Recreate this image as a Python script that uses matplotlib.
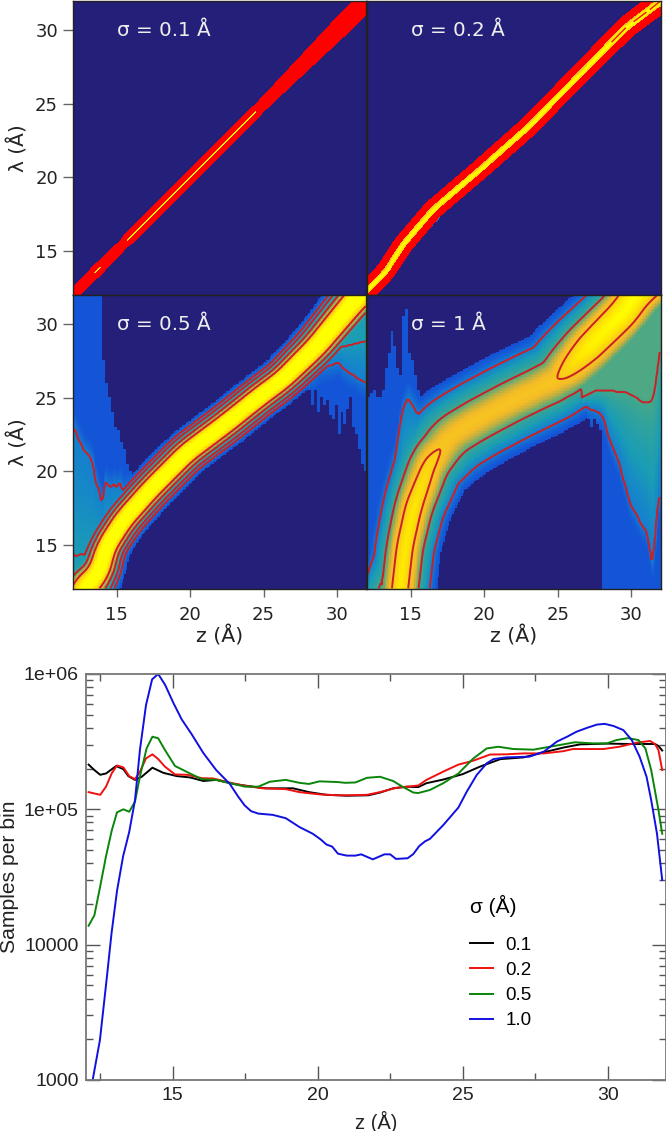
import numpy as np
import matplotlib
matplotlib.use('Agg')
import matplotlib.pyplot as plt
from matplotlib.colors import LinearSegmentedColormap

# --- sampling curves (z in Angstrom, samples per bin)
z_01 = [12.1, 12.3, 12.5, 12.7, 13.05, 13.3, 13.47, 13.7, 13.93, 14.3, 14.68, 15.14, 15.6, 16.06, 16.5, 17.1, 17.77, 18.2, 19.15, 19.7, 20.3, 20.7, 21, 21.75, 22.15, 22.6, 23.07, 23.47, 23.75, 24.33, 25, 25.6, 26.3, 27.1, 27.8, 28.47, 29.05, 29.97, 30.77, 31.63, 31.75, 31.88]
n_01 = [214000, 195000, 180000, 184000, 209000, 198000, 176000, 165000, 174000, 203000, 186000, 176000, 172000, 162000, 165000, 154000, 147000, 143000, 143000, 134000, 128000, 127000, 126000, 127000, 133000, 143000, 147000, 146000, 156000, 166000, 182000, 207000, 235000, 242000, 264000, 286000, 302000, 306000, 304000, 304000, 294000, 272000]
z_02 = [12.1, 12.5, 12.7, 12.9, 13.08, 13.3, 13.5, 13.7, 13.87, 14.08, 14.3, 14.5, 14.73, 15.08, 15.5, 16, 16.4, 17, 17.5, 18.1, 18.9, 19.37, 20.06, 20.7, 21, 21.7, 22.15, 22.7, 23.47, 23.75, 24.33, 24.85, 25.37, 25.94, 26.5, 27.1, 27.8, 28.47, 28.8, 29.85, 30.4, 31, 31.46, 31.63, 31.75, 31.88]
n_02 = [134000, 128000, 147000, 185000, 211000, 204000, 176000, 167000, 190000, 238000, 255000, 235000, 207000, 181000, 180000, 170000, 169000, 157000, 149000, 143000, 141000, 134000, 129000, 127000, 127000, 128000, 134000, 144000, 150000, 165000, 190000, 214000, 229000, 254000, 255000, 259000, 259000, 269000, 279000, 279000, 290000, 311000, 320000, 304000, 274000, 195000]
z_05 = [12.1, 12.3, 12.5, 12.7, 12.9, 13.08, 13.3, 13.5, 13.7, 13.87, 14.1, 14.3, 14.5, 14.73, 15.08, 15.6, 16, 16.5, 17.1, 17.5, 17.95, 18.35, 18.9, 19.37, 19.7, 20.06, 20.7, 20.95, 21.3, 21.7, 22.15, 22.6, 22.9, 23.3, 23.47, 23.87, 24.33, 24.85, 25.37, 25.83, 26.23, 26.75, 27.44, 28, 28.47, 28.87, 29.5, 29.97, 30.3, 30.7, 31.06, 31.3, 31.5, 31.75, 31.88]
n_05 = [13800, 16500, 27000, 45000, 70000, 95000, 100000, 96000, 114000, 175000, 282000, 344000, 335000, 275000, 209000, 184000, 167000, 165000, 154000, 147000, 147000, 160000, 165000, 157000, 154000, 161000, 159000, 157000, 158000, 171000, 174000, 162000, 148000, 133000, 132000, 139000, 156000, 184000, 238000, 282000, 290000, 279000, 276000, 290000, 302000, 313000, 307000, 307000, 325000, 336000, 325000, 282000, 195000, 99000, 66000]
z_10 = [12.24, 12.49, 12.72, 12.89, 13.08, 13.29, 13.5, 13.7, 13.87, 14.08, 14.29, 14.5, 14.74, 15.03, 15.31, 15.65, 16.06, 16.5, 16.97, 17.26, 17.48, 17.7, 17.95, 18.45, 18.9, 19.37, 19.83, 20.1, 20.3, 20.5, 20.7, 21, 21.3, 21.5, 21.9, 22.3, 22.5, 22.7, 23.1, 23.3, 23.5, 23.7, 23.87, 24.33, 24.85, 25.14, 25.48, 25.83, 26.06, 26.5, 27.3, 27.8, 28.24, 28.6, 28.93, 29.3, 29.63, 29.9, 30.2, 30.54, 30.83, 31.1, 31.34, 31.5, 31.7, 31.88]
n_10 = [1000, 1970, 5500, 12100, 25000, 45000, 68000, 117000, 275000, 590000, 913000, 1000000, 830000, 607000, 462000, 360000, 260000, 195000, 154000, 124000, 107000, 97000, 93000, 91000, 86000, 74000, 66000, 60000, 55000, 53000, 47000, 45500, 45500, 46500, 42700, 46500, 46500, 43000, 43500, 46800, 53500, 58000, 60500, 76500, 103000, 135000, 179000, 219000, 235000, 242000, 245000, 267000, 316000, 344000, 375000, 401000, 423000, 428000, 413000, 385000, 325000, 245000, 174000, 117000, 66000, 30000]
sigma_labels = ['0.1', '0.2', '0.5', '1.0']
line_colors = ['#000000', '#f01010', '#0a850a', '#1010e0']

# --- ridge of each 2D histogram: position, height, width along the ridge
a_z = [11, 13.4, 13.55, 13.7, 13.85, 14, 15.6, 15.8, 24.4, 24.6, 26, 28, 30, 33]
a_lam = [11, 13.4, 13.55, 13.7, 13.85, 14, 15.6, 15.8, 24.4, 24.6, 26, 28, 30, 33]
a_amp = [.42, .42, .7, .8, .7, .42, .42, .8, .8, .42, .42, .42, .42, .42]
a_wid = [.18, .18, .18, .18, .18, .18, .17, .17, .18, .19, .22, .27, .32, .35]

b_z = [11, 12, 13.3, 14.46, 16.5, 19.67, 22.85, 26.5, 29.65, 31.9, 33]
b_lam = [11.5, 12.3, 13.6, 15.4, 17.8, 20.5, 23.3, 27, 30.2, 31.9, 33]
b_amp = [1, 1, 1, 1, 1, 1, 1, 1, 1.1, 1.1, 1.1]
b_wid = [.27, .27, .27, .28, .28, .28, .28, .28, .3, .31, .31]
b_split = [(28.7, 29.6), (30.2, 31.0), (31.3, 32.0)]

c_z = [12.2, 12.7, 13.75, 14.3, 15.45, 17.27, 19.76, 22.5, 24.75, 26.3, 28.6, 31.1, 33]
c_lam = [10.5, 12, 13.07, 14.9, 16.7, 18.75, 21.25, 23.3, 25.1, 26.25, 28.5, 31.5, 33.5]
c_amp = [1.2, 1.5, 2, 2, 2, 2, 2, 2, 2, 2, 2, 2, 2]
c_wid = [.7, .7, .55, .5, .5, .5, .5, .5, .5, .5, .55, .6, .6]

d_z = [14.1, 14.27, 14.6, 15.2, 16.3, 17, 17.7, 19.5, 21.76, 23.6, 25.05, 27.2, 29.5, 30.35, 32]
d_lam = [10, 12, 14.9, 17.6, 20.6, 21.5, 22.4, 23.5, 24.7, 25.6, 26.3, 28.5, 30.8, 32, 33.5]
d_amp = [1.3, 1.3, 1.3, 1.25, .95, .72, .65, .65, .65, .65, .72, 1.6, 2, 2, 2]
d_wid = [.8, .8, .8, .85, 1, 1.15, 1.24, 1.24, 1.24, 1.24, 1.2, 1.05, .95, .95, .95]

# --- low count tails: per column limits and two contour positions
c_left_z = [12, 12.2, 12.4, 12.6, 12.8, 13, 13.2, 13.4, 13.6, 13.8, 14, 14.2, 14.4, 14.6, 14.8, 15, 15.2, 15.4, 15.6, 15.8]
c_left_top = [32, 32, 32, 32, 32, 32, 32, 32, 32, 32, 27.5, 26, 25, 24, 23, 22.8, 22, 21.5, 20.5, 20]
c_left_bot = [12, 12, 12, 12, 12, 12, 12, 12.5, 13, 13.5, 14, 14.5, 15, 15.5, 16, 16.3, 16.6, 17, 17.3, 17.6]
c_left_c1 = [22.7, 22.9, 22.2, 21.9, 21.4, 21.2, 21, 20.5, 19.2, 18.8, 17.8, 19.3, 19.1, 18.9, 19.2, 18.9, 19.3, 18.7, 18.7, 18.8]
c_left_c2 = [14.5, 14.2, 14.3, 14.4, 14.3, 14.4, 14.6, 14.8, 15, 15.2, 15.5, 15.7, 16, 16.2, 16.5, 16.7, 17, 17.2, 17.4, 17.6]
c_right_z = [27.8, 28, 28.2, 28.4, 28.6, 28.8, 29, 29.2, 29.4, 29.6, 29.8, 30, 30.2, 30.4, 30.6, 30.8, 31, 31.2, 31.4, 31.6, 31.8, 32]
c_right_top = [28, 28.2, 28.4, 28.6, 28.9, 29.1, 29.3, 29.5, 29.8, 30, 30.2, 30.4, 30.7, 30.9, 31.1, 31.4, 31.6, 31.8, 32, 32, 32, 32]
c_right_bot = [27, 25.5, 24.5, 25.5, 24, 25, 24.5, 24.8, 23.8, 23.5, 24.5, 22.5, 24, 23.2, 24.2, 25, 23, 22.5, 21.5, 20.5, 20, 19]
c_right_c1 = [26, 26.2, 26.5, 26.6, 26.8, 27, 27.1, 27.1, 27.2, 27.2, 27.3, 27.4, 27.3, 27, 26.9, 26.7, 26.6, 26.5, 26.3, 26.2, 26.1, 26]
c_right_c2 = [28, 28, 28.1, 28.2, 28.3, 28.3, 28.4, 28.4, 28.4, 28.4, 28.4, 28.4, 28.5, 28.5, 28.5, 28.6, 28.6, 28.7, 28.7, 28.8, 28.8, 28.9]

d_left_z = [12, 12.2, 12.4, 12.6, 12.8, 13, 13.2, 13.4, 13.6, 13.8, 14, 14.2, 14.4, 14.6, 14.8, 15, 15.2, 15.4, 15.6, 15.8, 16]
d_left_top = [25, 25.3, 25.5, 25, 25, 25.5, 27, 28, 29.5, 28.5, 27, 26.5, 30.5, 31, 28, 27.5, 26.5, 25.5, 24.8, 24.5, 24.2]
d_left_bot = [12, 12, 12, 12, 12, 12.5, 13, 13.5, 14, 15, 16, 17, 18, 19, 20, 20.5, 21, 21.5, 22, 22.3, 22.5]
d_left_c1 = [12.8, 13.4, 14, 14.5, 15.1, 16, 16.8, 17.7, 18.5, 19.8, 21.5, 22.8, 24, 24.6, 25, 24.7, 24.4, 24, 23.9, 24, 24.2]
d_left_c2 = [11, 11.2, 11.5, 11.7, 12, 12.5, 13, 13.5, 14, 14.5, 15, 16, 17, 17.5, 18, 19, 20, 20.5, 21, 21, 21]
d_right_z = [26.6, 26.8, 27, 27.2, 27.4, 27.6, 27.8, 28, 28.2, 28.4, 28.6, 28.8, 29, 29.2, 29.4, 29.6, 29.8, 30, 30.2, 30.4, 30.6, 30.8, 31, 31.2, 31.4, 31.6, 31.8, 32]
d_right_top = [27.9, 28.1, 28.3, 28.5, 28.7, 28.9, 29.1, 29.3, 29.5, 29.7, 29.9, 30.1, 30.3, 30.5, 30.7, 30.9, 31.1, 31.3, 31.5, 31.7, 31.9, 32, 32, 32, 32, 32, 32, 32]
d_right_bot = [24.4, 24.3, 23.5, 23, 23.5, 23.2, 22.8, 12, 12, 12, 12, 12, 12, 12, 12, 12, 12, 12, 12, 12, 12, 12, 12, 12, 12, 12, 12, 12]
d_right_c1 = [24.3, 24.4, 24.4, 24.2, 24.2, 24.1, 24, 23.8, 23.4, 22.5, 22, 21.5, 21, 20.5, 19.6, 19, 18.2, 17.6, 17.3, 17, 16.5, 16.2, 16, 15, 13.7, 15, 17.5, 18.5]
d_right_c2 = [25, 25.1, 25.2, 25.3, 25.4, 25.5, 25.5, 25.5, 25.5, 25.5, 25.5, 25.5, 25.4, 25.4, 25.4, 25.4, 25.3, 25.2, 25.1, 25, 24.8, 24.7, 24.7, 24.7, 24.8, 25.5, 27, 28.5]

W, H = 666, 1131
heat_cmap = LinearSegmentedColormap.from_list('heat', [
    (0, '#241f78'), (.0099, '#241f78'), (.01, '#1450d8'), (.035, '#1580d0'),
    (.08, '#1a9db5'), (.2, '#45a888'), (.35, '#c0b040'), (.5, '#f5bb28'),
    (.75, '#ffe800'), (1, '#ffff00')], N=2048)


def ridge_field(zz, ll, rz, rl, ra, rw, win=11):
    # walk along the ridge and keep the highest value in each cell
    seg = np.hypot(np.diff(rz), np.diff(rl))
    s = np.concatenate([[0], np.cumsum(seg)])
    t = np.arange(0, s[-1], 0.06)
    pz, pl = np.interp(t, s, rz), np.interp(t, s, rl)
    pa, pw = np.interp(t, s, ra), np.interp(t, s, rw)
    # round off the corners of the hand read polyline
    box = np.ones(win) / win
    pz = np.convolve(np.pad(pz, win // 2, mode='edge'), box, mode='valid')
    pl = np.convolve(np.pad(pl, win // 2, mode='edge'), box, mode='valid')
    f = np.zeros_like(zz)
    for i in range(len(t)):
        d = np.hypot(zz - pz[i], ll - pl[i])
        f = np.maximum(f, pa[i] * np.exp(-(d / pw[i]) ** 1.4))
    return f


def tail_field(zz, ll, z, top, bot, c1, c2, lev1, lev2):
    # blocky columns of low counts, rising from contour c1 to contour c2
    z = np.array(z)
    idx = np.clip(np.searchsorted(z, zz, side='right') - 1, 0, len(z) - 1)
    inside = (zz >= z[0]) & (zz <= z[-1] + 0.2)
    inside &= (ll <= np.array(top)[idx]) & (ll >= np.array(bot)[idx])
    a = np.interp(zz, z, c1)
    b = np.interp(zz, z, c2)
    t = (ll - a) / (b - a)
    v = lev1 * (lev2 / lev1) ** np.maximum(t, 0)
    v = np.where(t < 0, lev1 * np.exp(-np.abs(ll - a) / 1.2), v)
    v = np.clip(v, 0.013, lev2 * 1.05)
    return np.where(inside, v, 0)


def squeeze(f, top):
    # keep the colours below gold, compress everything above into gold..yellow
    g = np.where(f > .5, .5 + (f - .5) / (top - .5) * .5, f)
    return np.clip(g, 0, 1)


def grid(n):
    e = np.linspace(12, 32, n + 1)
    c = 0.5 * (e[1:] + e[:-1])
    return np.meshgrid(c, c)


def add_ax(x0, y0, x1, y1):
    return fig.add_axes([x0 / W, 1 - y1 / H, (x1 - x0) / W, (y1 - y0) / H])


fig = plt.figure(figsize=(W / 100, H / 100), dpi=100)
boxes = [(72.6, 1, 366.4, 295), (366.6, 1, 660.6, 295),
         (72.6, 295, 366.4, 589), (366.6, 295, 660.6, 589)]
titles = ['σ = 0.1 Å', 'σ = 0.2 Å', 'σ = 0.5 Å', 'σ = 1 Å']

zz2, ll2 = grid(300)
zz1, ll1 = grid(200)
f_a = ridge_field(zz2, ll2, a_z, a_lam, a_amp, a_wid)
f_b = ridge_field(zz2, ll2, b_z, b_lam, b_amp, b_wid)
f_c = ridge_field(zz1, ll1, c_z, c_lam, c_amp, c_wid, win=25)
f_c = np.maximum(f_c, tail_field(zz1, ll1, c_left_z, c_left_top, c_left_bot, c_left_c1, c_left_c2, .035, .08))
f_c = np.maximum(f_c, tail_field(zz1, ll1, c_right_z, c_right_top, c_right_bot, c_right_c1, c_right_c2, .035, .08))
f_d = ridge_field(zz1, ll1, d_z, d_lam, d_amp, d_wid, win=25)
f_d = np.maximum(f_d, tail_field(zz1, ll1, d_left_z, d_left_top, d_left_bot, d_left_c1, d_left_c2, .035, .2))
f_d = np.maximum(f_d, tail_field(zz1, ll1, d_right_z, d_right_top, d_right_bot, d_right_c1, d_right_c2, .035, .2))

fields = [(zz2, ll2, np.where(f_a < .035, 0, f_a)), (zz2, ll2, np.where(f_b < .035, 0, f_b)),
          (zz1, ll1, f_c), (zz1, ll1, f_d)]
levels = [[.035, .48], [.035, .42], [.035, .08, .2, .46], [.035, .2, .72]]
tops = [.8, 1, 1.2, 2]

for i, box in enumerate(boxes):
    ax = add_ax(*box)
    zz, ll, f = fields[i]
    ax.imshow(squeeze(f, tops[i]), extent=(12, 32, 12, 32), origin='lower', cmap=heat_cmap,
              vmin=0, vmax=1, interpolation='nearest', aspect='auto')
    if i < 2:
        # the two narrow panels are packed solid with contours
        ax.contourf(zz, ll, f, levels=levels[i], colors=['#ff0000'])
    else:
        ax.contour(zz, ll, f, levels=levels[i], colors='#cc1f26', linewidths=1.4)
    ax.text(15, 30, titles[i], color='#eeeeee', fontsize=14.3, va='center', ha='left')
    ax.set_xlim(12, 32)
    ax.set_ylim(12, 32)
    ax.set_xticks([15, 20, 25, 30])
    ax.set_yticks([15, 20, 25, 30])
    ax.tick_params(axis='y', length=7, width=1, color='#666666', labelsize=13, pad=3.5,
                   labelleft=i % 2 == 0, left=i % 2 == 0, labelcolor='#222222')
    ax.tick_params(axis='x', length=5.8, width=1, color='#666666', labelsize=13, pad=6.5,
                   labelbottom=i >= 2, bottom=i >= 2, labelcolor='#222222')
    for sp in ax.spines.values():
        sp.set_color('#222222')
        sp.set_linewidth(1)
    if i % 2 == 0:
        ax.set_ylabel('λ (Å)', fontsize=14.5, color='#222222')
        ax.yaxis.set_label_coords(-44.6 / 294, 0.5)
    if i >= 2:
        ax.set_xlabel('z (Å)', fontsize=14.7, color='#222222', labelpad=1)
    if i == 1:
        for s0, s1 in b_split:
            zs = np.array([s0, s1])
            ax.plot(zs, np.interp(zs, b_z, b_lam), color='#f01010', lw=1)

# --- bottom panel
plt.rcParams['font.family'] = ['Liberation Sans']
ax = add_ax(85.7, 674, 665.7, 1080)
series = [(z_01, n_01), (z_02, n_02), (z_05, n_05), (z_10, n_10)]
for (z, n), lab, col in zip(series, sigma_labels, line_colors):
    ax.plot(z, n, color=col, lw=1.4, label=lab)
ax.set_yscale('log')
ax.set_xlim(12, 32)
ax.set_ylim(1000, 1000000)
ax.set_xticks([15, 20, 25, 30])
ax.set_xticks([12.5, 17.5, 22.5, 27.5], minor=True)
ax.set_yticks([1000, 10000, 100000, 1000000])
ax.set_yticklabels(['1000', '10000', '1e+05', '1e+06'])
ax.yaxis.set_minor_locator(matplotlib.ticker.LogLocator(base=10, subs=np.arange(2, 10), numticks=12))
ax.yaxis.set_minor_formatter(matplotlib.ticker.NullFormatter())
ax.tick_params(which='major', direction='in', length=10, width=1, top=True, right=True,
               color='#555555', labelsize=14, labelcolor='#222222', pad=5)
ax.tick_params(which='minor', direction='in', length=5, width=1, top=True, right=True, color='#555555')
for lab in ax.get_xticklabels() + ax.get_yticklabels():
    lab.set_fontfamily('Liberation Sans')
for sp in ax.spines.values():
    sp.set_color('#777777')
    sp.set_linewidth(1.3)
ax.set_xlabel('z (Å)', fontsize=14.5, family='Liberation Sans', color='#222222', labelpad=5)
ax.set_ylabel('Samples per bin', fontsize=15.2, family='Liberation Sans', color='#222222')
ax.yaxis.set_label_coords(-67 / 580, 0.5)
leg = ax.legend(title='σ (Å)', frameon=False, loc='lower left', bbox_to_anchor=(0.662, 0.125),
                prop={'family': 'Liberation Sans', 'size': 13.5}, handlelength=1.25, labelspacing=0.43,
                handletextpad=0.65, borderpad=0, borderaxespad=0)
leg.get_title().set_fontsize(15)
leg.get_title().set_fontfamily(['Liberation Sans', 'DejaVu Sans'])
leg._legend_box.align = 'left'
leg._legend_box.sep = 14

fig.savefig('out.png', dpi=100)
